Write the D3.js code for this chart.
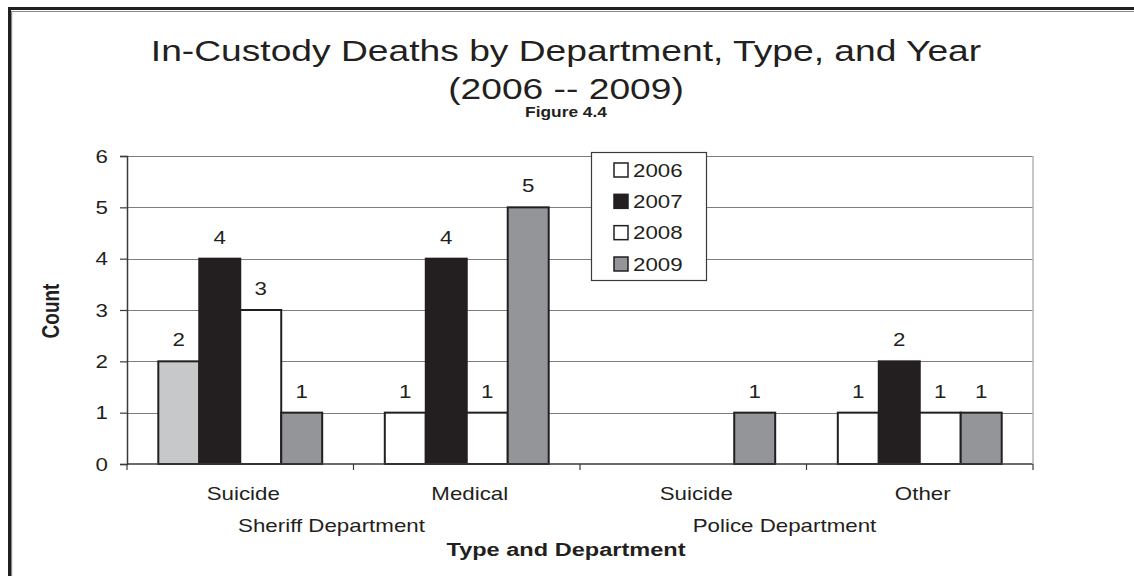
<!DOCTYPE html>
<html><head><meta charset="utf-8">
<script src="https://cdn.jsdelivr.net/npm/d3@7"></script>
<style>html,body{margin:0;padding:0;background:#fff;}svg{display:block;}</style>
</head><body><svg id="c" width="1134" height="576"></svg>
<script>
// ---- data ----
const categories = ["Suicide", "Medical", "Suicide", "Other"];
const departments = ["Sheriff Department", "Police Department"];
const deptSpan = [[0, 1], [2, 3]];
const years = ["2006", "2007", "2008", "2009"];
const v2006 = [2, 1, null, 1];
const v2007 = [4, 4, null, 2];
const v2008 = [3, 1, null, 1];
const v2009 = [1, 5, 1, 1];
const seriesValues = [v2006, v2007, v2008, v2009];
const yTicks = [0, 1, 2, 3, 4, 5, 6];
const titleLines = ["In-Custody Deaths by Department, Type, and Year", "(2006 -- 2009)"];
const subtitle = "Figure 4.4";
const yTitle = "Count";
const xTitle = "Type and Department";

// ---- style ----
const fills = ["#ffffff", "#231f20", "#ffffff", "#939598"];
const firstBarFill = "#c7c8ca";
const FONT = "Arial, 'Liberation Sans', sans-serif";
const SX = 1.24; // horizontal stretch of the original picture

const svg = d3.select("#c");
const W = 1134, H = 576;
const m = {left: 127, right: 1033, top: 156, bottom: 464};

// frame
svg.append("rect").attr("x", 0).attr("y", 0).attr("width", W).attr("height", H).attr("fill", "#fff");
svg.append("line").attr("x1", 8).attr("x2", W).attr("y1", 8.5).attr("y2", 8.5).attr("stroke", "#231f20").attr("stroke-width", 3);
svg.append("line").attr("x1", 11).attr("x2", W).attr("y1", 11.5).attr("y2", 11.5).attr("stroke", "#8a8a8a").attr("stroke-width", 1.2);
svg.append("line").attr("x1", 9.5).attr("x2", 9.5).attr("y1", 7).attr("y2", H).attr("stroke", "#231f20").attr("stroke-width", 3);
svg.append("line").attr("x1", 11.6).attr("x2", 11.6).attr("y1", 11).attr("y2", H).attr("stroke", "#8a8a8a").attr("stroke-width", 1.2);

function sText(parent, x, y, str, size, weight, anchor, extra) {
  return parent.append("text")
    .attr("transform", `translate(${x},${y}) scale(${SX},1)` + (extra || ""))
    .attr("text-anchor", anchor || "middle")
    .attr("font-family", FONT)
    .attr("font-size", size)
    .attr("font-weight", weight || "normal")
    .attr("fill", "#231f20")
    .text(str);
}

// scales
const x = d3.scaleBand().domain(d3.range(categories.length)).range([m.left, m.right]).paddingInner(0).paddingOuter(0);
const xi = d3.scaleBand().domain(years).range([0, x.bandwidth()]).paddingInner(0).paddingOuter(0.764);
const y = d3.scaleLinear().domain([0, 6]).range([m.bottom, m.top]);

// gridlines
svg.append("g").selectAll("line").data(yTicks.filter(d => d > 0)).join("line")
  .attr("x1", m.left).attr("x2", m.right)
  .attr("y1", d => Math.round(y(d)) + 0.5).attr("y2", d => Math.round(y(d)) + 0.5)
  .attr("stroke", "#7d7d7d").attr("stroke-width", 1);

// bars
const groups = svg.append("g").selectAll("g").data(categories.map((c, i) => i)).join("g")
  .attr("transform", i => `translate(${x(i)},0)`);
groups.each(function(ci) {
  const g = d3.select(this);
  years.forEach((yr, si) => {
    const v = seriesValues[si][ci];
    if (v == null) return;
    g.append("rect")
      .attr("x", xi(yr)).attr("width", xi.bandwidth())
      .attr("y", y(v)).attr("height", y(0) - y(v))
      .attr("fill", (ci === 0 && si === 0) ? firstBarFill : fills[si])
      .attr("stroke", "#231f20").attr("stroke-width", 2);
    sText(g, xi(yr) + xi.bandwidth() / 2, y(v) - 15, String(v), 18);
  });
});

// y axis
const yAxis = svg.append("g").attr("transform", `translate(${m.left},0)`)
  .call(d3.axisLeft(y).tickValues(yTicks).tickSize(7).tickPadding(12).tickFormat(d3.format("d")));
yAxis.select(".domain").attr("stroke", "#3a3a3a").attr("stroke-width", 1.5);
yAxis.selectAll(".tick line").attr("stroke", "#3a3a3a").attr("stroke-width", 1.2);
yAxis.selectAll(".tick text").remove();
yTicks.forEach(t => sText(svg, m.left - 19, y(t) + 6.5, String(t), 18, "normal", "end"));

// x axis
svg.append("line").attr("x1", m.left).attr("x2", m.right).attr("y1", y(0)).attr("y2", y(0))
  .attr("stroke", "#3a3a3a").attr("stroke-width", 1.5);
const bounds = d3.range(categories.length + 1).map(i => i < categories.length ? x(i) : x(categories.length - 1) + x.bandwidth());
svg.append("g").selectAll("line").data(bounds).join("line")
  .attr("x1", d => d).attr("x2", d => d).attr("y1", y(0)).attr("y2", y(0) + 6)
  .attr("stroke", "#3a3a3a").attr("stroke-width", 1.2);
svg.append("line").attr("x1", m.right).attr("x2", m.right).attr("y1", m.top).attr("y2", y(0))
  .attr("stroke", "#b5b5b5").attr("stroke-width", 1.5);
categories.forEach((c, i) => sText(svg, x(i) + x.bandwidth() / 2 + 3, 500, c, 18));
departments.forEach((d, i) => {
  const a = x(deptSpan[i][0]), b = x(deptSpan[i][1]) + x.bandwidth();
  sText(svg, (a + b) / 2 - 22, 532, d, 18);
});

// titles
sText(svg, 566, 61, titleLines[0], 30);
sText(svg, 566, 99, titleLines[1], 30);
sText(svg, 566, 117, subtitle, 14, "bold");
sText(svg, 566, 556, xTitle, 19, "bold");
svg.append("text")
  .attr("transform", `translate(59,311) scale(${SX},1) rotate(-90)`)
  .attr("text-anchor", "middle").attr("font-family", FONT).attr("font-size", 19).attr("font-weight", "bold")
  .attr("fill", "#231f20").text(yTitle);

// legend
const lg = svg.append("g").attr("transform", "translate(591,152)");
lg.append("rect").attr("x", 0.5).attr("y", 0.5).attr("width", 115).attr("height", 128)
  .attr("fill", "#fff").attr("stroke", "#3a3a3a").attr("stroke-width", 1.2);
const ly = d3.scalePoint().domain(years).range([18, 112]);
years.forEach((yr, si) => {
  lg.append("rect").attr("x", 23).attr("y", ly(yr) - 7).attr("width", 14).attr("height", 14)
    .attr("fill", fills[si]).attr("stroke", "#231f20").attr("stroke-width", 1.5);
  sText(lg, 42, ly(yr) + 6.5, yr, 18, "normal", "start");
});
</script></body></html>
